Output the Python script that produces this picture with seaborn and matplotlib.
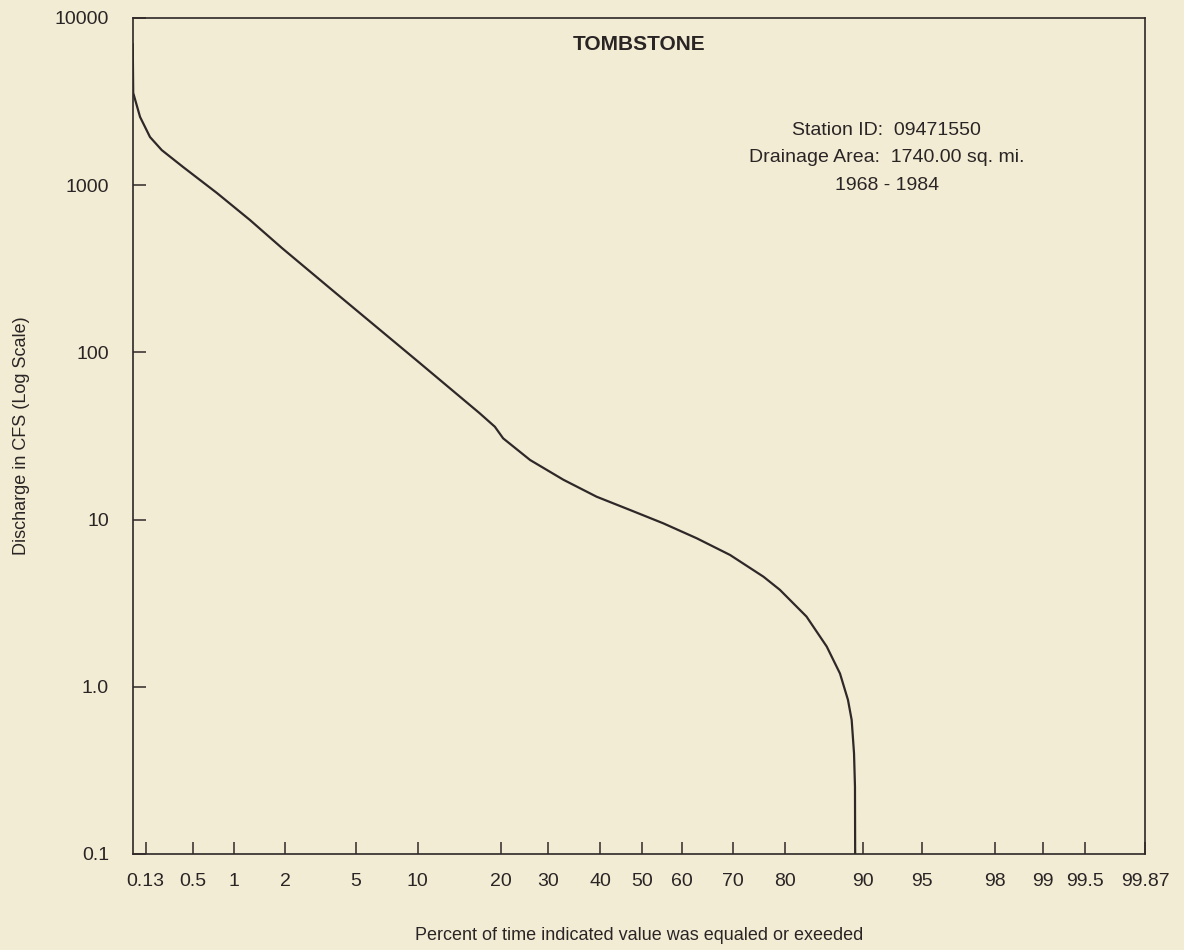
import numpy as np
import pandas as pd
import matplotlib
matplotlib.use("Agg")
import matplotlib.pyplot as plt
import matplotlib.ticker as mticker
import seaborn as sns
from statistics import NormalDist

# flow duration curve, Tombstone station
pct_exceeded = [0.1, 0.101, 0.116, 0.148, 0.21, 0.384, 0.755, 1.25, 1.92, 3.82,
                10.0, 17.0, 19.1, 20.4, 25.9, 32.8, 39.3, 47.2, 55.4, 63.0,
                69.4, 76.1, 79.1, 83.2, 85.9, 87.5, 88.4, 88.8, 89.05, 89.15, 89.17]
discharge_cfs = [7000, 3560, 2560, 1940, 1620, 1285, 898, 619, 421, 231,
                 88.4, 43.2, 35.9, 30.6, 22.7, 17.3, 13.7, 11.4, 9.5, 7.73,
                 6.14, 4.55, 3.8, 2.63, 1.74, 1.2, 0.834, 0.633, 0.4, 0.253, 0.1]

x_ticks = [0.13, 0.5, 1, 2, 5, 10, 20, 30, 40, 50, 60, 70, 80, 90, 95, 98, 99, 99.5, 99.87]
x_tick_labels = ["0.13", "0.5", "1", "2", "5", "10", "20", "30", "40", "50", "60",
                 "70", "80", "90", "95", "98", "99", "99.5", "99.87"]
y_ticks = [0.1, 1, 10, 100, 1000, 10000]
y_tick_labels = ["0.1", "1.0", "10", "100", "1000", "10000"]

# probability paper: printed grid spacing of the ticks (normal deviate -> sheet position)
grid_pct = [0.1] + x_ticks
grid_pos = [132.7, 145.7, 192.7, 234, 285, 356, 417.7, 501, 548.3, 600, 641.7,
            681.7, 733.3, 785, 863.3, 922.3, 995, 1043.3, 1085, 1145]

nd = NormalDist()
grid_z = [nd.inv_cdf(p / 100) for p in grid_pct]
# extend linearly beyond the sheet so the scale stays monotonic
z_anchor = np.array([-9.0] + grid_z + [9.0])
pos_anchor = np.array([grid_pos[0] - (grid_z[0] + 9.0) * 166] + grid_pos
                      + [grid_pos[-1] + (9.0 - grid_z[-1]) * 166])


def pct_to_pos(p):
    p = np.asarray(p, dtype=float)
    q = np.clip(p.ravel() / 100.0, 1e-12, 1 - 1e-12)
    z = np.array([nd.inv_cdf(v) for v in q])
    return np.interp(z, z_anchor, pos_anchor).reshape(p.shape)


def pos_to_pct(x):
    x = np.asarray(x, dtype=float)
    z = np.interp(x.ravel(), pos_anchor, z_anchor)
    return (100.0 * np.array([nd.cdf(v) for v in z])).reshape(x.shape)


df = pd.DataFrame({"pct": pct_exceeded, "cfs": discharge_cfs})

sns.set_theme(style="ticks")
plt.rcParams["font.family"] = ["Liberation Sans", "DejaVu Sans"]

bg = "#f3ecd5"
ink = "#2e2828"
txt = "#2a2525"

fig = plt.figure(figsize=(11.84, 9.5), dpi=100, facecolor=bg)
ax = fig.add_axes([0.1121, 0.1011, 0.9671 - 0.1121, 0.9811 - 0.1011])
ax.set_facecolor(bg)

sns.lineplot(data=df, x="pct", y="cfs", ax=ax, color=ink, linewidth=1.6,
             estimator=None, sort=False)

ax.set_xscale("function", functions=(pct_to_pos, pos_to_pct))
ax.set_yscale("log")
ax.set_xlim(0.1, 99.87)
ax.set_ylim(0.1, 10000)

ax.xaxis.set_major_locator(mticker.FixedLocator(x_ticks))
ax.xaxis.set_major_formatter(mticker.FixedFormatter(x_tick_labels))
ax.xaxis.set_minor_locator(mticker.NullLocator())
ax.yaxis.set_major_locator(mticker.FixedLocator(y_ticks))
ax.yaxis.set_major_formatter(mticker.FixedFormatter(y_tick_labels))
ax.yaxis.set_minor_locator(mticker.NullLocator())

ax.tick_params(axis="both", direction="in", length=9, width=1.1, color=ink,
               labelsize=14, labelcolor=txt)
ax.tick_params(axis="x", pad=14)
ax.tick_params(axis="y", pad=17)

for s in ax.spines.values():
    s.set_visible(True)
    s.set_color(ink)
    s.set_linewidth(1.2)

ax.set_xlabel("Percent of time indicated value was equaled or exeeded",
              fontsize=13, color=txt, labelpad=26)
ax.set_ylabel("Discharge in CFS (Log Scale)", fontsize=13, color=txt,
              labelpad=18)

ax.text(0.5, 0.968, "TOMBSTONE", transform=ax.transAxes, ha="center", va="center",
        fontsize=15, fontweight="bold", color=txt)
ax.text(0.745, 0.865, "Station ID:  09471550", transform=ax.transAxes,
        ha="center", va="center", fontsize=14, color=txt)
ax.text(0.745, 0.8325, "Drainage Area:  1740.00 sq. mi.", transform=ax.transAxes,
        ha="center", va="center", fontsize=14, color=txt)
ax.text(0.745, 0.80, "1968 - 1984", transform=ax.transAxes,
        ha="center", va="center", fontsize=14, color=txt)

ax.grid(False)

fig.savefig("out.png", dpi=100, facecolor=bg)
